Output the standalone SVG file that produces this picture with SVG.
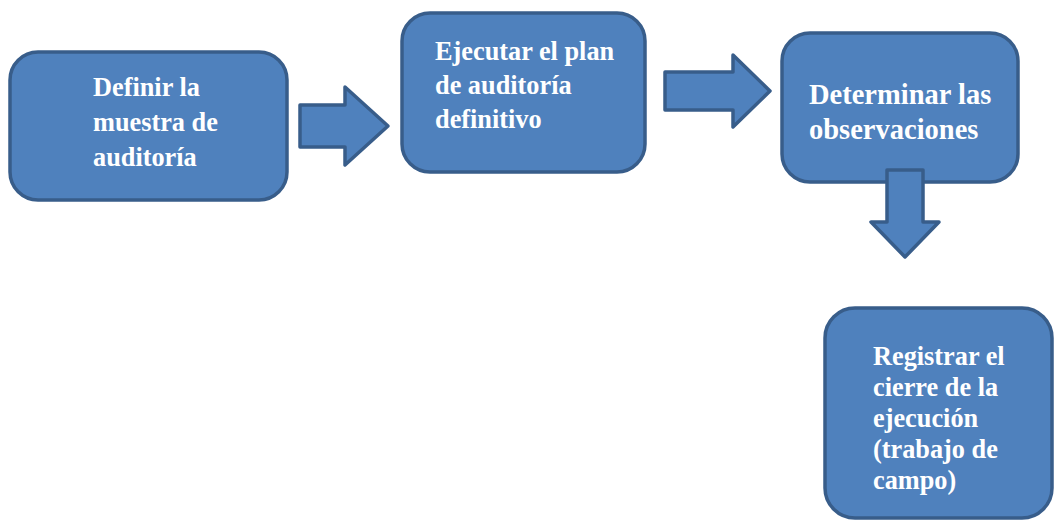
<svg xmlns="http://www.w3.org/2000/svg" width="1054" height="520" viewBox="0 0 1054 520">
<style>
.box{fill:#4f81bd;stroke:#385d8a;stroke-width:3.5}
.arr{fill:#4f81bd;stroke:#385d8a;stroke-width:3.5;stroke-linejoin:round}
.t{font-family:"Liberation Serif","Times New Roman",serif;font-weight:bold;fill:#ffffff;font-size:26.3px}
.t2{font-family:"Liberation Serif","Times New Roman",serif;font-weight:bold;fill:#ffffff;font-size:28.5px}
</style>
<rect width="1054" height="520" fill="#ffffff"/>
<g id="node1">
<rect class="box" x="10" y="52" width="277" height="148" rx="28"/>
<text class="t" x="93"><tspan x="93" y="96">Definir la</tspan><tspan x="93" y="131">muestra de</tspan><tspan x="93" y="166">auditoría</tspan></text>
</g>
<g id="node2">
<rect class="box" x="402" y="13" width="243" height="159" rx="28"/>
<text class="t" x="435"><tspan x="435" y="60">Ejecutar el plan</tspan><tspan x="435" y="94">de auditoría</tspan><tspan x="435" y="128">definitivo</tspan></text>
</g>
<g id="node3">
<rect class="box" x="782" y="33" width="236" height="149" rx="28"/>
<text class="t2" x="809"><tspan x="809" y="104">Determinar las</tspan><tspan x="809" y="139">observaciones</tspan></text>
</g>
<g id="node4">
<rect class="box" x="825" y="308" width="227" height="210" rx="30"/>
<text class="t" x="873"><tspan x="873" y="365">Registrar el</tspan><tspan x="873" y="396">cierre de la</tspan><tspan x="873" y="427">ejecución</tspan><tspan x="873" y="458">(trabajo de</tspan><tspan x="873" y="489">campo)</tspan></text>
</g>
<g id="connectors">
<path class="arr" d="M300,105 H345 V87 L388,126 L345,165 V147 H300 Z"/>
<path class="arr" d="M665,72 H733 V55 L770,91 L733,127 V110 H665 Z"/>
<path class="arr" d="M887,170 H923 V222 H939 L905,257 L871,222 H887 Z"/>
</g>
</svg>
